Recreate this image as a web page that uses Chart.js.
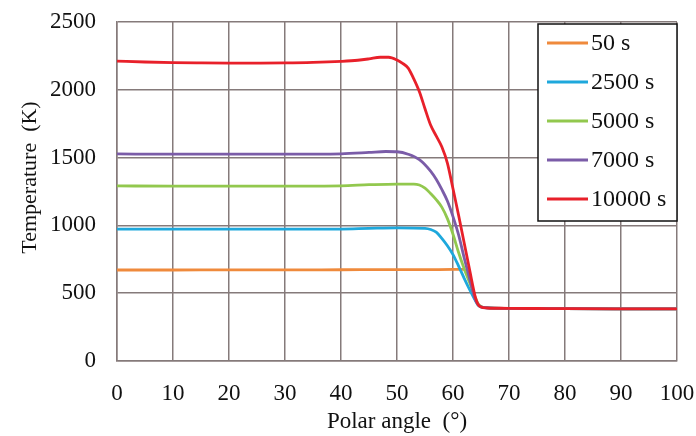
<!DOCTYPE html>
<html>
<head>
<meta charset="utf-8">
<script src="https://cdn.jsdelivr.net/npm/chart.js@4"></script>
<style>
  html, body { margin: 0; padding: 0; background: #fff; }
  #wrap { width: 696px; height: 436px; }
</style>
</head>
<body>
<div id="wrap"><canvas id="tempChart"></canvas></div>
<script>
// series: polar angle (deg) -> temperature (K)
const labels = ["50 s", "2500 s", "5000 s", "7000 s", "10000 s"];
const colors = ["#ef8a3c", "#1ea8dc", "#92c84e", "#7b5ca8", "#e8202a"];

const angle50 = [0, 10, 20, 30, 40, 50, 55, 60, 62.1];
const temp50 = [671, 671, 672, 672, 673, 674, 674, 675, 675];

const angle2500 = [0, 10, 20, 30, 40, 45, 50, 55, 56, 57, 58, 59, 60, 61, 62, 63, 64, 64.5, 65, 66, 70, 80, 90, 100];
const temp2500 = [973, 972, 972, 972, 973, 978, 982, 978, 970, 950, 905, 850, 785, 700, 610, 525, 445, 410, 398, 392, 388, 386, 385, 385];

const angle5000 = [0, 10, 20, 30, 40, 45, 50, 53, 54, 55, 56, 57, 58, 59, 60, 61, 62, 63, 64, 64.5, 65, 66, 70, 80, 90, 100];
const temp5000 = [1291, 1290, 1290, 1290, 1292, 1300, 1305, 1305, 1298, 1275, 1235, 1190, 1135, 1050, 935, 800, 680, 575, 465, 420, 402, 393, 388, 386, 385, 385];

const angle7000 = [0, 10, 20, 30, 40, 45, 48, 50, 52, 54, 56, 57, 58, 59, 60, 61, 62, 63, 64, 64.5, 65, 66, 70, 80, 90, 100];
const temp7000 = [1527, 1525, 1525, 1525, 1528, 1538, 1545, 1543, 1525, 1485, 1400, 1340, 1265, 1180, 1065, 930, 760, 600, 450, 415, 400, 393, 388, 386, 385, 385];

const angle10000 = [0, 5, 10, 15, 20, 25, 30, 35, 40, 43, 45, 47, 48.5, 50, 51, 52, 53, 54, 55, 56, 57, 58, 59, 60, 61, 62, 63, 64, 64.5, 65, 66, 68, 70, 75, 80, 90, 100];
const temp10000 = [2212, 2205, 2200, 2198, 2197, 2197, 2198, 2202, 2210, 2218, 2228, 2240, 2240, 2220, 2195, 2160, 2080, 1985, 1860, 1740, 1660, 1580, 1460, 1270, 1075, 870, 665, 470, 415, 398, 391, 389, 388, 387, 386, 385, 385];

const xTicks = [0, 10, 20, 30, 40, 50, 60, 70, 80, 90, 100];
const yTicks = [0, 500, 1000, 1500, 2000, 2500];

const angles = [angle50, angle2500, angle5000, angle7000, angle10000];
const temps = [temp50, temp2500, temp5000, temp7000, temp10000];

const serif = "'Liberation Serif', 'Times New Roman', serif";
const gridColor = "#857a7a";

function toPoints(xs, ys) {
    return xs.map((x, i) => ({ x: x, y: ys[i] }));
}

let datasets = labels.map((lab, i) => ({
    label: lab,
    data: toPoints(angles[i], temps[i]),
    borderColor: colors[i],
    backgroundColor: colors[i],
    borderWidth: 2.8,
    pointRadius: 0,
    showLine: true,
    cubicInterpolationMode: "monotone",
    order: labels.length - i // red drawn on top
}));

// legend box sitting inside the plot, top right, like the original
const boxLegend = {
    id: "boxLegend",
    afterDraw(chart) {
        const ctx = chart.ctx;
        const area = chart.chartArea;
        const w = 139, h = 197;
        const left = area.right - w, top = area.top + 2;
        ctx.save();
        ctx.fillStyle = "#fff";
        ctx.fillRect(left, top, w, h);
        ctx.strokeStyle = "#111";
        ctx.lineWidth = 1.5;
        ctx.strokeRect(left, top, w, h);
        ctx.font = "24px " + serif;
        ctx.textBaseline = "middle";
        ctx.fillStyle = "#111";
        chart.data.datasets.forEach((ds, i) => {
            const y = top + 19 + i * 39;
            ctx.strokeStyle = ds.borderColor;
            ctx.lineWidth = 2.8;
            ctx.beginPath();
            ctx.moveTo(left + 9, y);
            ctx.lineTo(left + 50, y);
            ctx.stroke();
            ctx.fillText(ds.label, left + 53, y + 1);
        });
        ctx.restore();
    }
};

// y-axis title, drawn by hand: it sits a little above the plot's middle in the original
const yTitle = {
    id: "yTitle",
    afterDraw(chart) {
        const ctx = chart.ctx;
        const area = chart.chartArea;
        ctx.save();
        ctx.translate(30, (area.top + area.bottom) / 2 - 14);
        ctx.rotate(-Math.PI / 2);
        ctx.font = "22px " + serif;
        ctx.fillStyle = "#111";
        ctx.textAlign = "center";
        ctx.textBaseline = "middle";
        ctx.fillText("Temperature  (K)", 0, 0);
        ctx.restore();
    }
};

const whiteBg = {
    id: "whiteBg",
    beforeDraw(chart) {
        const ctx = chart.ctx;
        ctx.save();
        ctx.fillStyle = "#fff";
        ctx.fillRect(0, 0, chart.width, chart.height);
        ctx.restore();
    }
};

let tempChart = new Chart(document.getElementById("tempChart"), {
    type: "scatter",
    data: { datasets: datasets },
    options: {
        responsive: true,
        maintainAspectRatio: false,
        animation: false,
        layout: { padding: { top: 22, right: 19, left: 0, bottom: 0 } },
        plugins: {
            legend: { display: false },
            tooltip: { enabled: false }
        },
        scales: {
            x: {
                type: "linear",
                min: 0,
                max: 100,
                afterBuildTicks: (s) => { s.ticks = xTicks.map(v => ({ value: v })); },
                afterFit: (s) => { s.height = 75; s.paddingLeft = 0; s.paddingRight = 0; },
                grid: { color: gridColor, lineWidth: 1.5, drawTicks: false },
                border: { color: gridColor, width: 1.5 },
                ticks: { color: "#111", font: { family: serif, size: 23 }, padding: 19, maxRotation: 0, callback: (v) => String(v) },
                title: {
                    display: true,
                    text: "Polar angle  (°)",
                    color: "#111",
                    font: { family: serif, size: 23, lineHeight: 1.2 },
                    padding: { top: 1, bottom: 0 }
                }
            },
            y: {
                min: 0,
                max: 2500,
                afterBuildTicks: (s) => { s.ticks = yTicks.map(v => ({ value: v })); },
                afterFit: (s) => { s.width = 117; s.paddingTop = 0; s.paddingBottom = 0; },
                grid: { color: gridColor, lineWidth: 1.5, drawTicks: false },
                border: { color: gridColor, width: 1.5 },
                ticks: { color: "#111", font: { family: serif, size: 23 }, padding: 21, callback: (v) => String(v) }
            }
        }
    },
    plugins: [whiteBg, boxLegend, yTitle]
});
</script>
</body>
</html>
